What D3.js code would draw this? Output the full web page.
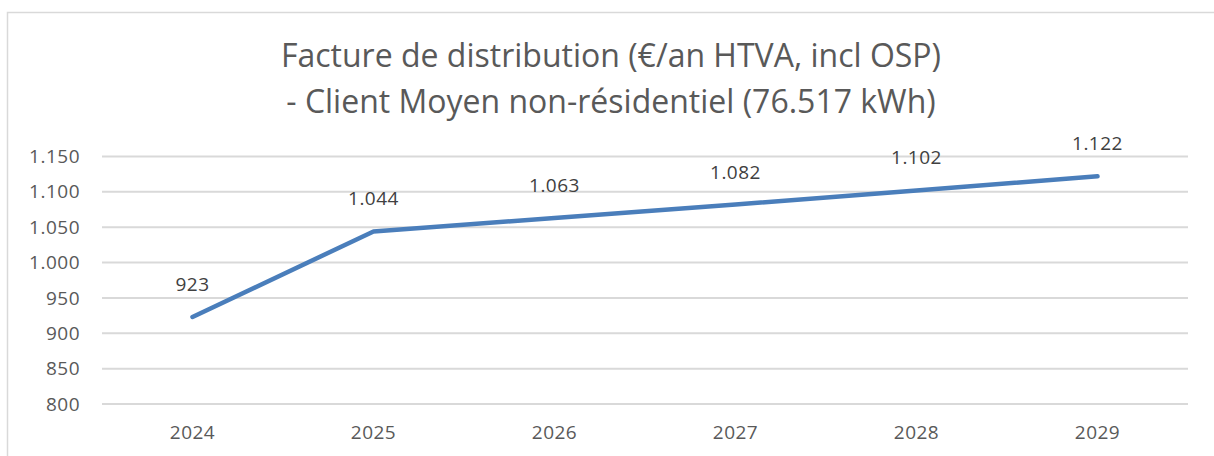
<!DOCTYPE html>
<html lang="fr">
<head>
<meta charset="utf-8">
<title>Facture de distribution</title>
<style>
  body { margin: 0; background: #fff; }
  .title { font-family: "Open Sans", sans-serif; font-size: 32px; fill: #595959; text-anchor: middle; }
  .axis text { font-family: "Open Sans", sans-serif; font-size: 19px; fill: #595959; letter-spacing: 0.5px; }
  .axis path, .axis line { display: none; }
  .grid line { stroke: #d9d9d9; stroke-width: 2; }
  .label { font-family: "Open Sans", sans-serif; font-size: 19px; fill: #404040; text-anchor: middle; letter-spacing: 0.5px; }
</style>
</head>
<body>
<div id="chart"></div>
<script src="https://cdn.jsdelivr.net/npm/d3@7"></script>
<script>
var years = ["2024", "2025", "2026", "2027", "2028", "2029"];
var values = [923, 1044, 1063, 1082, 1102, 1122];
var yTicks = [800, 850, 900, 950, 1000, 1050, 1100, 1150];
var titleLines = ["Facture de distribution (€/an HTVA, incl OSP)",
                  "- Client Moyen non-résidentiel (76.517 kWh)"];

var width = 1214, height = 456;
var margin = {top: 156.5, right: 26, bottom: 52, left: 102};

var fmt = function(v){ return d3.format(",")(v).replace(/,/g, "."); };

var svg = d3.select("#chart").append("svg")
    .attr("width", width)
    .attr("height", height);

// chart frame (cut off at right/bottom)
svg.append("rect")
   .attr("x", 7.5).attr("y", 12.5)
   .attr("width", 1230).attr("height", 480)
   .attr("fill", "none")
   .attr("stroke", "#d9d9d9")
   .attr("stroke-width", 1.5);

svg.selectAll("text.title")
   .data(titleLines)
   .enter()
   .append("text")
   .attr("class", "title")
   .attr("x", 611)
   .attr("y", function(d, i){ return 67 + i * 46; })
   .text(function(d){ return d; });

var xScale = d3.scaleBand().domain(years).range([margin.left, width - margin.right]);
var yScale = d3.scaleLinear().domain([800, 1150]).range([404, margin.top]);

svg.append("g")
   .attr("class", "grid")
   .selectAll("line")
   .data(yTicks)
   .enter()
   .append("line")
   .attr("x1", margin.left)
   .attr("x2", width - margin.right)
   .attr("y1", function(d){ return yScale(d); })
   .attr("y2", function(d){ return yScale(d); });

svg.append("g")
   .attr("class", "y axis")
   .attr("transform", "translate(" + (margin.left - 12) + ",0)")
   .call(d3.axisLeft(yScale).tickValues(yTicks).tickFormat(fmt).tickSize(0).tickPadding(10));

svg.append("g")
   .attr("class", "x axis")
   .attr("transform", "translate(0,404)")
   .call(d3.axisBottom(xScale).tickSize(0).tickPadding(22));

var line = d3.line()
    .x(function(d, i){ return xScale(years[i]) + xScale.bandwidth() / 2; })
    .y(function(d){ return yScale(d); });

svg.append("path")
   .datum(values)
   .attr("d", line)
   .attr("fill", "none")
   .attr("stroke", "#4a7ebb")
   .attr("stroke-width", 4.5)
   .attr("stroke-linecap", "round")
   .attr("stroke-linejoin", "round");

svg.selectAll("text.label")
   .data(values)
   .enter()
   .append("text")
   .attr("class", "label")
   .attr("x", function(d, i){ return xScale(years[i]) + xScale.bandwidth() / 2; })
   .attr("y", function(d){ return yScale(d) - 26; })
   .text(fmt);
</script>
</body>
</html>
